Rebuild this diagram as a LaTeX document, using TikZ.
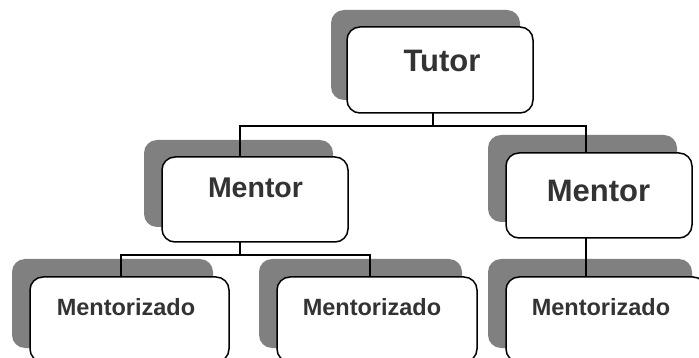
\documentclass[tikz,border=0pt]{standalone}
\usepackage{fontspec}
\setmainfont{Liberation Sans}
\definecolor{shadowgray}{HTML}{808080}
\definecolor{txtgray}{HTML}{333333}
\begin{document}
\begin{tikzpicture}[x=1pt,y=-1pt,
  shadowbox/.style={fill=shadowgray, rounded corners=13pt, inner sep=0pt, outer sep=0pt, draw=none},
  whitebox/.style={fill=white, draw=black, line width=1.5pt, rounded corners=13pt, inner sep=0pt, outer sep=0pt},
  lbl/.style={anchor=base, inner sep=0pt, text=txtgray, font=\bfseries},
  conn/.style={draw=black, line width=1.3pt}]
\useasboundingbox (0,0) rectangle (699,358);
\clip (0,0) rectangle (699,358);
% shadows
\node[shadowbox, minimum width=189pt, minimum height=90pt] (tutorsh) at (425.5,55) {};
\node[shadowbox, minimum width=189pt, minimum height=87pt] (mentorLsh) at (238.5,183.5) {};
\node[shadowbox, minimum width=189pt, minimum height=87pt] (mentorRsh) at (582.5,178.5) {};
\node[shadowbox, minimum width=201pt, minimum height=89pt] (meLsh) at (112.5,303.5) {};
\node[shadowbox, minimum width=203pt, minimum height=89pt] (meMsh) at (360.5,303.5) {};
\node[shadowbox, minimum width=204pt, minimum height=89pt] (meRsh) at (590,303.5) {};
% white boxes
\node[whitebox, minimum width=186pt, minimum height=86pt] (tutor) at (440,70) {};
\node[whitebox, minimum width=186pt, minimum height=85pt] (mentorL) at (255,199.5) {};
\node[whitebox, minimum width=186pt, minimum height=85pt] (mentorR) at (599,195.5) {};
\node[whitebox, minimum width=199pt, minimum height=85pt] (meL) at (129.5,319.5) {};
\node[whitebox, minimum width=200pt, minimum height=85pt] (meM) at (377,319.5) {};
\node[whitebox, minimum width=200pt, minimum height=85pt] (meR) at (606,319.5) {};
% labels
\node[lbl, font=\fontsize{31}{31}\selectfont\bfseries] (tutort) at (442,72) {Tutor};
\node[lbl, font=\fontsize{28.5}{28.5}\selectfont\bfseries] (mentorLt) at (255.5,198) {Mentor};
\node[lbl, font=\fontsize{31}{31}\selectfont\bfseries] (mentorRt) at (598.5,202) {Mentor};
\node[lbl, font=\fontsize{23.5}{23.5}\selectfont\bfseries] (meLt) at (126,316) {Mentorizado};
\node[lbl, font=\fontsize{23.5}{23.5}\selectfont\bfseries] (meMt) at (372,316) {Mentorizado};
\node[lbl, font=\fontsize{23.5}{23.5}\selectfont\bfseries] (meRt) at (601,316) {Mentorizado};
% connectors
\coordinate (j1) at (433,126);
\coordinate (jl) at (240,126);
\coordinate (jr) at (586,126);
\coordinate (j2) at (240,255);
\coordinate (j2l) at (121,255);
\coordinate (j2r) at (370,255);
\draw[conn] (tutor.south -| j1) -- (j1);
\draw[conn] (mentorL.north -| jl) -- (jl) -- (jr) -- (mentorR.north -| jr);
\draw[conn] (mentorL.south -| j2) -- (j2);
\draw[conn] (meL.north -| j2l) -- (j2l) -- (j2r) -- (meM.north -| j2r);
\draw[conn] (mentorR.south -| jr) -- (meR.north -| jr);
\end{tikzpicture}
\end{document}
